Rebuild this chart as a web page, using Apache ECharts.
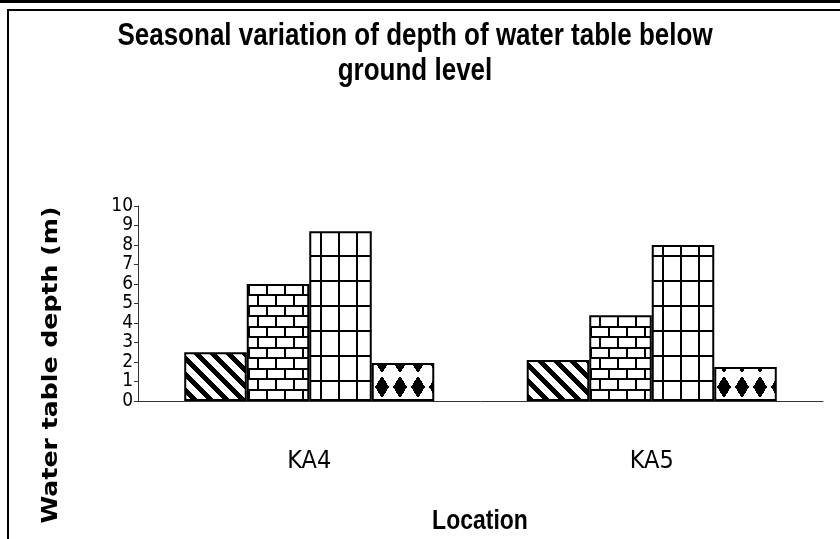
<!DOCTYPE html>
<html>
<head>
<meta charset="utf-8">
<title>Seasonal variation of depth of water table</title>
<script src="https://cdn.jsdelivr.net/npm/echarts@6/dist/echarts.min.js"></script>
<style>
  html, body { margin: 0; padding: 0; background: #fff; }
  #chart { width: 840px; height: 539px; }
</style>
</head>
<body>
<div id="chart"></div>
<script>
// data
const locations = ["KA4", "KA5"];
const seasonNames = ["Season 1", "Season 2", "Season 3", "Season 4"];
const season1 = [2.5, 2.1];
const season2 = [6.0, 4.4];
const season3 = [8.7, 8.0];
const season4 = [1.95, 1.75];
const yTicks = [0, 10, 1]; // min, max, interval

const NARROW = '"DejaVu Sans Condensed", "Liberation Sans Narrow", "Liberation Sans", Arial, sans-serif';

// ! pattern tiles (black on white)
const makeTile = (w, h, isBlack) => {
  const c = document.createElement("canvas");
  c.width = w;
  c.height = h;
  const ctx = c.getContext("2d");
  ctx.fillStyle = "#fff";
  ctx.fillRect(0, 0, w, h);
  ctx.fillStyle = "#000";
  for (let y = 0; y < h; y++) {
    for (let x = 0; x < w; x++) {
      if (isBlack(x, y)) ctx.fillRect(x, y, 1, 1);
    }
  }
  return c;
};

const wrap = (v, p) => ((v % p) + p) % p;

const diagTile = makeTile(16, 16, (x, y) => wrap(x - y, 16) < 7);

const brickTile = makeTile(18, 21, (x, y) => {
  if (y === 0 || y === 1 || y === 11 || y === 12) return true;
  if (y >= 2 && y <= 10) return x === 5 || x === 6;
  return x === 14 || x === 15;
});

const gridTile = makeTile(18, 25, (x, y) => x === 14 || x === 15 || y === 5 || y === 6);

const diamondTile = makeTile(18, 25, (x, y) => {
  const dx = wrap(x - 4 + 9, 18) - 9;
  const dy = wrap(y - 12 + 12, 25) - 12;
  return Math.abs(dx + 0.5) / 7 + Math.abs(dy + 0.5) / 11 <= 1;
});

const tiles = [diagTile, brickTile, gridTile, diamondTile];
const seriesData = [season1, season2, season3, season4];

const chart = echarts.init(document.getElementById("chart"), null, { renderer: "canvas" });

const option = {
  backgroundColor: "#fff",
  animation: false,
  grid: { left: 138, right: 17, top: 206, bottom: 138 },
  xAxis: {
    type: "category",
    data: locations,
    boundaryGap: true,
    axisLine: { lineStyle: { color: "#333", width: 1 } },
    axisTick: { length: 9, lineStyle: { color: "#222" } },
    axisLabel: { color: "#000", fontFamily: NARROW, fontSize: 25, margin: 48 },
  },
  yAxis: {
    type: "value",
    min: yTicks[0],
    max: yTicks[1],
    interval: yTicks[2],
    splitLine: { show: false },
    axisLine: { show: true, lineStyle: { color: "#333", width: 1 } },
    axisTick: { show: true, length: 4, lineStyle: { color: "#333" } },
    axisLabel: { color: "#000", fontFamily: NARROW, fontSize: 19, margin: 5 },
  },
  series: seriesData.map((d, i) => ({
    name: seasonNames[i],
    type: "bar",
    data: d,
    barGap: "0%",
    barCategoryGap: "27%",
    itemStyle: {
      color: { image: tiles[i], repeat: "repeat" },
      borderColor: "#000",
      borderWidth: 2,
    },
  })),
  graphic: [
    // frame
    { type: "rect", shape: { x: 0, y: 0, width: 840, height: 3 }, style: { fill: "#000" } },
    { type: "rect", shape: { x: 7, y: 9, width: 833, height: 2 }, style: { fill: "#000" } },
    { type: "rect", shape: { x: 7, y: 9, width: 2, height: 530 }, style: { fill: "#000" } },
    {
      type: "text",
      x: 415,
      y: 19,
      scaleY: 1.21,
      style: {
        text: "Seasonal variation of depth of water table below\nground level",
        font: 'bold 26px "Liberation Sans", Arial, sans-serif',
        fill: "#000",
        textAlign: "center",
        textVerticalAlign: "top",
        lineHeight: 29,
      },
    },
    {
      type: "text",
      x: 52,
      y: 365,
      rotation: Math.PI / 2,
      scaleX: 1.2,
      style: {
        text: "Water table depth (m)",
        font: 'bold 21px "DejaVu Sans", Verdana, sans-serif',
        fill: "#000",
        textAlign: "center",
        textVerticalAlign: "middle",
      },
    },
    {
      type: "text",
      x: 480,
      y: 521,
      scaleY: 1.2,
      style: {
        text: "Location",
        font: 'bold 23px "Liberation Sans", Arial, sans-serif',
        fill: "#000",
        textAlign: "center",
        textVerticalAlign: "middle",
      },
    },
  ],
};

chart.setOption(option);
</script>
</body>
</html>
